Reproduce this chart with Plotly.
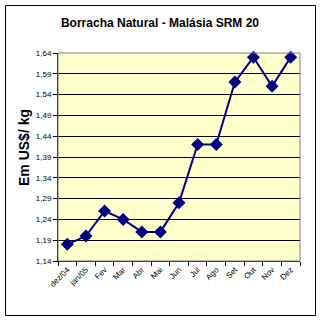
import plotly.graph_objects as go

months = ["dez/04", "jan/05", "Fev", "Mar", "Abr", "Mai", "Jun", "Jul", "Ago", "Set", "Out", "Nov", "Dez"]
prices = [1.18, 1.20, 1.26, 1.24, 1.21, 1.21, 1.28, 1.42, 1.42, 1.57, 1.63, 1.56, 1.63]
y_ticks = [1.14, 1.19, 1.24, 1.29, 1.34, 1.39, 1.44, 1.49, 1.54, 1.59, 1.64]
y_tick_text = [f"{v:.2f}".replace(".", ",") for v in y_ticks]

W, H = 322, 322
L, R, T, B = 58, 22, 53, 61
pw, ph = W - L - R, H - T - B

def px_x(p):
    return (p - L) / pw

def px_y(p):
    return (H - B - p) / ph

fig = go.Figure(
    go.Scatter(
        x=months,
        y=prices,
        mode="lines+markers",
        line=dict(color="#000080", width=2),
        marker=dict(symbol="diamond", size=10, color="#000080"),
        cliponaxis=False,
    )
)

fig.update_layout(
    width=W,
    height=H,
    margin=dict(l=L, r=R, t=T, b=B),
    paper_bgcolor="white",
    plot_bgcolor="#FFFFCC",
    showlegend=False,
    font=dict(family="Liberation Sans, Arial, sans-serif", color="black"),
    title=dict(
        text="<b>Borracha Natural - Malásia SRM 20</b>",
        x=px_x(160),
        xref="paper",
        xanchor="center",
        y=1 - 23 / H,
        yanchor="middle",
        font=dict(size=12, family="Liberation Sans, Arial, sans-serif"),
    ),
    xaxis=dict(
        type="category",
        range=[-0.5, len(months) - 0.5],
        tickangle=-45,
        ticks="outside",
        tickson="boundaries",
        ticklen=4,
        tickcolor="black",
        showline=True,
        linecolor="black",
        linewidth=1,
        showgrid=False,
        tickfont=dict(size=8),
        mirror=False,
    ),
    yaxis=dict(
        range=[1.14, 1.64],
        tickvals=y_ticks,
        ticktext=y_tick_text,
        ticks="outside",
        ticklen=4,
        tickcolor="black",
        showline=True,
        linecolor="black",
        linewidth=1,
        showgrid=True,
        gridcolor="black",
        gridwidth=1,
        zeroline=False,
        tickfont=dict(size=8),
    ),
    annotations=[
        dict(text="<b>Em US$/ kg</b>", textangle=-90, showarrow=False,
             xref="paper", yref="paper", x=px_x(24), y=px_y(148),
             xanchor="center", yanchor="middle", font=dict(size=14)),
    ],
    shapes=[
        # gray frame around the plot area
        dict(type="rect", xref="paper", yref="paper", x0=0, x1=1, y0=0, y1=1,
             line=dict(color="#808080", width=1)),
        # outer chart border
        dict(type="rect", xref="paper", yref="paper",
             x0=px_x(5.5), x1=px_x(315.5), y0=px_y(315.5), y1=px_y(5.5),
             line=dict(color="black", width=1)),
    ],
)

fig.write_html("out.html")
